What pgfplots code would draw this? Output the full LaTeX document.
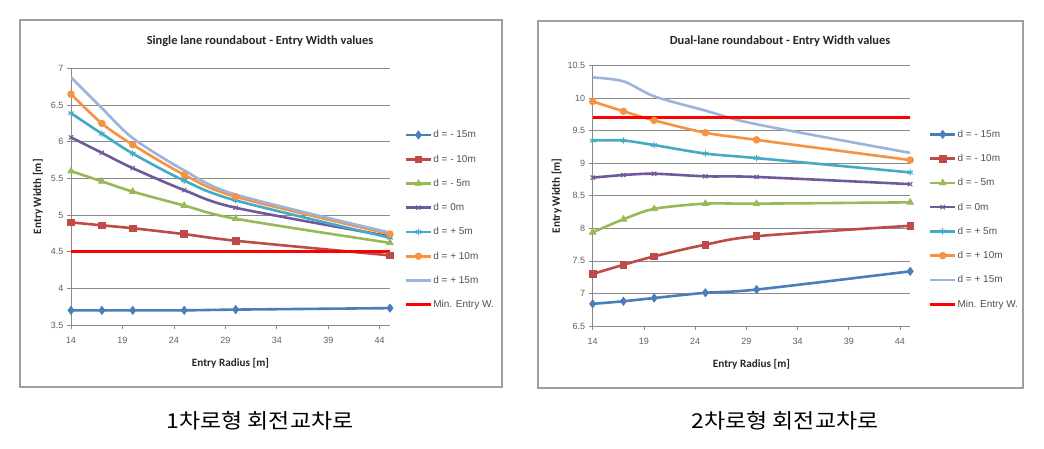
\documentclass[border=0pt]{standalone}
\usepackage{fontspec}
\setmainfont{Carlito}
\newfontfamily\arialf{Liberation Sans}
\newfontfamily\kr{Noto Sans CJK KR}
\usepackage{graphicx}
\usepackage{pgfplots}
\usepackage{pgfplotstable}
\pgfplotsset{compat=1.18}

\definecolor{s1}{HTML}{4A7EBB}
\definecolor{s2}{HTML}{BE4B48}
\definecolor{s3}{HTML}{98B954}
\definecolor{s4}{HTML}{71589A}
\definecolor{s5}{HTML}{46AAC5}
\definecolor{s6}{HTML}{F69240}
\definecolor{s7}{HTML}{9EB3DA}
\definecolor{minred}{HTML}{FF0000}
\definecolor{gridc}{HTML}{8A8A8A}
\definecolor{framec}{HTML}{A0A0A0}
\definecolor{tickc}{HTML}{606060}
\definecolor{labc}{HTML}{262626}
\definecolor{legc}{HTML}{505050}

\pgfplotstableread{
x  m15  m10  m5   z    p5   p10  p15  mn
14 3.70 4.90 5.60 6.06 6.39 6.65 6.88 4.5
17 3.70 4.86 5.46 5.85 6.11 6.25 6.46 4.5
20 3.70 4.82 5.32 5.64 5.84 5.96 6.05 4.5
25 3.70 4.74 5.13 5.34 5.47 5.55 5.61 4.5
30 3.71 4.65 4.95 5.10 5.20 5.25 5.28 4.5
45 3.73 4.45 4.62 4.71 4.69 4.74 4.76 4.5
}\single

\pgfplotstableread{
x  m15  m10  m5   z    p5   p10  p15   mn
14 6.84 7.30 7.94 8.78 9.35 9.95 10.32 9.7
17 6.88 7.44 8.14 8.82 9.35 9.80 10.26 9.7
20 6.93 7.57 8.30 8.84 9.28 9.66 10.03 9.7
25 7.01 7.75 8.38 8.80 9.15 9.47 9.81  9.7
30 7.06 7.88 8.38 8.79 9.08 9.36 9.60  9.7
45 7.34 8.04 8.40 8.68 8.86 9.05 9.16  9.7
}\dual

\pgfplotsset{
 rb/.style={
  scale only axis,
  xmin=14, xmax=45, xtick={14,19,...,44},
  axis x line*=bottom, axis y line*=left,
  ymajorgrids, grid style={gridc, line width=0.8pt},
  axis line style={gridc, line width=0.8pt},
  major tick style={gridc, line width=0.8pt},
  tick align=outside, major tick length=4pt,
  ticklabel style={font=\arialf\fontsize{9}{11}\selectfont, text=tickc},
  xticklabel style={yshift=-5pt},
  /pgf/number format/assume math mode=true,
  label style={font=\bfseries\fontsize{11.2}{13}\selectfont, text=labc},
  xlabel={Entry Radius [m]}, ylabel={Entry Width [m]},
  legend style={draw=none, fill=none, anchor=west, font=\arialf\fontsize{10}{12}\selectfont, text=legc, row sep=11.5pt, inner sep=0pt,
    nodes={inner xsep=1pt}},
  legend cell align=left,
  legend image code/.code={\draw[mark repeat=2,mark phase=2] plot coordinates {(0pt,0pt)(12.5pt,0pt)(25pt,0pt)};},
  every axis plot/.append style={line width=2.6pt, smooth},
 },
 ser1/.style={s1, mark=diamond*, mark size=4pt, mark options={solid, fill=s1, line width=0.8pt}},
 ser2/.style={s2, mark=square*, mark size=3.3pt, mark options={solid, fill=s2, line width=0.8pt}},
 ser3/.style={s3, mark=triangle*, mark size=3.7pt, mark options={solid, fill=s3, line width=0.8pt}},
 ser4/.style={s4, mark=x, mark size=3pt, mark options={solid, line width=1pt}},
 ser5/.style={s5, mark=asterisk, mark size=3.2pt, mark options={solid, line width=1pt}},
 ser6/.style={s6, mark=*, mark size=3.3pt, mark options={solid, fill=s6, line width=0.8pt}},
 ser7/.style={s7, no markers},
 ser8/.style={minred, line width=2.8pt, no markers},
}

\begin{document}
\begin{tikzpicture}
\path[use as bounding box] (0,0) rectangle (1044pt,449pt);
\fill[white] (0,0) rectangle (1044pt,449pt);
\draw[framec, line width=1.6pt] (20pt,62pt) rectangle (502pt,429pt);
\draw[framec, line width=1.6pt] (538pt,61pt) rectangle (1023pt,428pt);

\begin{axis}[rb,
  at={(71pt,124pt)}, anchor=south west,
  width=319pt, height=256.5pt,
  ymin=3.5, ymax=7, ytick={3.5,4,...,7},
  xlabel style={at={([yshift=-38pt]axis description cs:0.5,0)}, anchor=center},
  ylabel style={at={([xshift=-33pt]axis description cs:0,0.5)}, anchor=center},
  legend style={at={(1.045,0.41)}},
]
\addplot[ser1] table[x=x,y=m15]{\single}; \addlegendentry{d = - 15m}
\addplot[ser2] table[x=x,y=m10]{\single}; \addlegendentry{d = - 10m}
\addplot[ser3] table[x=x,y=m5]{\single};  \addlegendentry{d = - 5m}
\addplot[ser4] table[x=x,y=z]{\single};   \addlegendentry{d = 0m}
\addplot[ser5] table[x=x,y=p5]{\single};  \addlegendentry{d = + 5m}
\addplot[ser6] table[x=x,y=p10]{\single}; \addlegendentry{d = + 10m}
\addplot[ser7] table[x=x,y=p15]{\single}; \addlegendentry{d = + 15m}
\addplot[ser8] table[x=x,y=mn]{\single};  \addlegendentry{Min. Entry W.}
\end{axis}

\begin{axis}[rb,
  at={(592.7pt,123pt)}, anchor=south west,
  width=317.5pt, height=260.3pt,
  ymin=6.5, ymax=10.5, ytick={6.5,7,...,10.5},
  xlabel style={at={([yshift=-38pt]axis description cs:0.5,0)}, anchor=center},
  ylabel style={at={([xshift=-36pt]axis description cs:0,0.5)}, anchor=center},
  legend style={at={(1.058,0.41)}},
]
\addplot[ser1] table[x=x,y=m15]{\dual}; \addlegendentry{d = - 15m}
\addplot[ser2] table[x=x,y=m10]{\dual}; \addlegendentry{d = - 10m}
\addplot[ser3] table[x=x,y=m5]{\dual};  \addlegendentry{d = - 5m}
\addplot[ser4] table[x=x,y=z]{\dual};   \addlegendentry{d = 0m}
\addplot[ser5] table[x=x,y=p5]{\dual};  \addlegendentry{d = + 5m}
\addplot[ser6] table[x=x,y=p10]{\dual}; \addlegendentry{d = + 10m}
\addplot[ser7] table[x=x,y=p15]{\dual}; \addlegendentry{d = + 15m}
\addplot[ser8] table[x=x,y=mn]{\dual};  \addlegendentry{Min. Entry W.}
\end{axis}

\node[font=\bfseries\fontsize{12.4}{14}\selectfont, text=labc] at (260pt,408pt) {Single lane roundabout - Entry Width values};
\node[font=\bfseries\fontsize{12.4}{14}\selectfont, text=labc] at (780pt,408pt) {Dual-lane roundabout - Entry Width values};

\node[font=\kr\fontsize{20.5}{24}\selectfont, text=black] at (260pt,28pt) {\scalebox{1.12}[1]{1차로형 회전교차로}};
\node[font=\kr\fontsize{20.5}{24}\selectfont, text=black] at (785pt,28pt) {\scalebox{1.12}[1]{2차로형 회전교차로}};
\end{tikzpicture}
\end{document}
